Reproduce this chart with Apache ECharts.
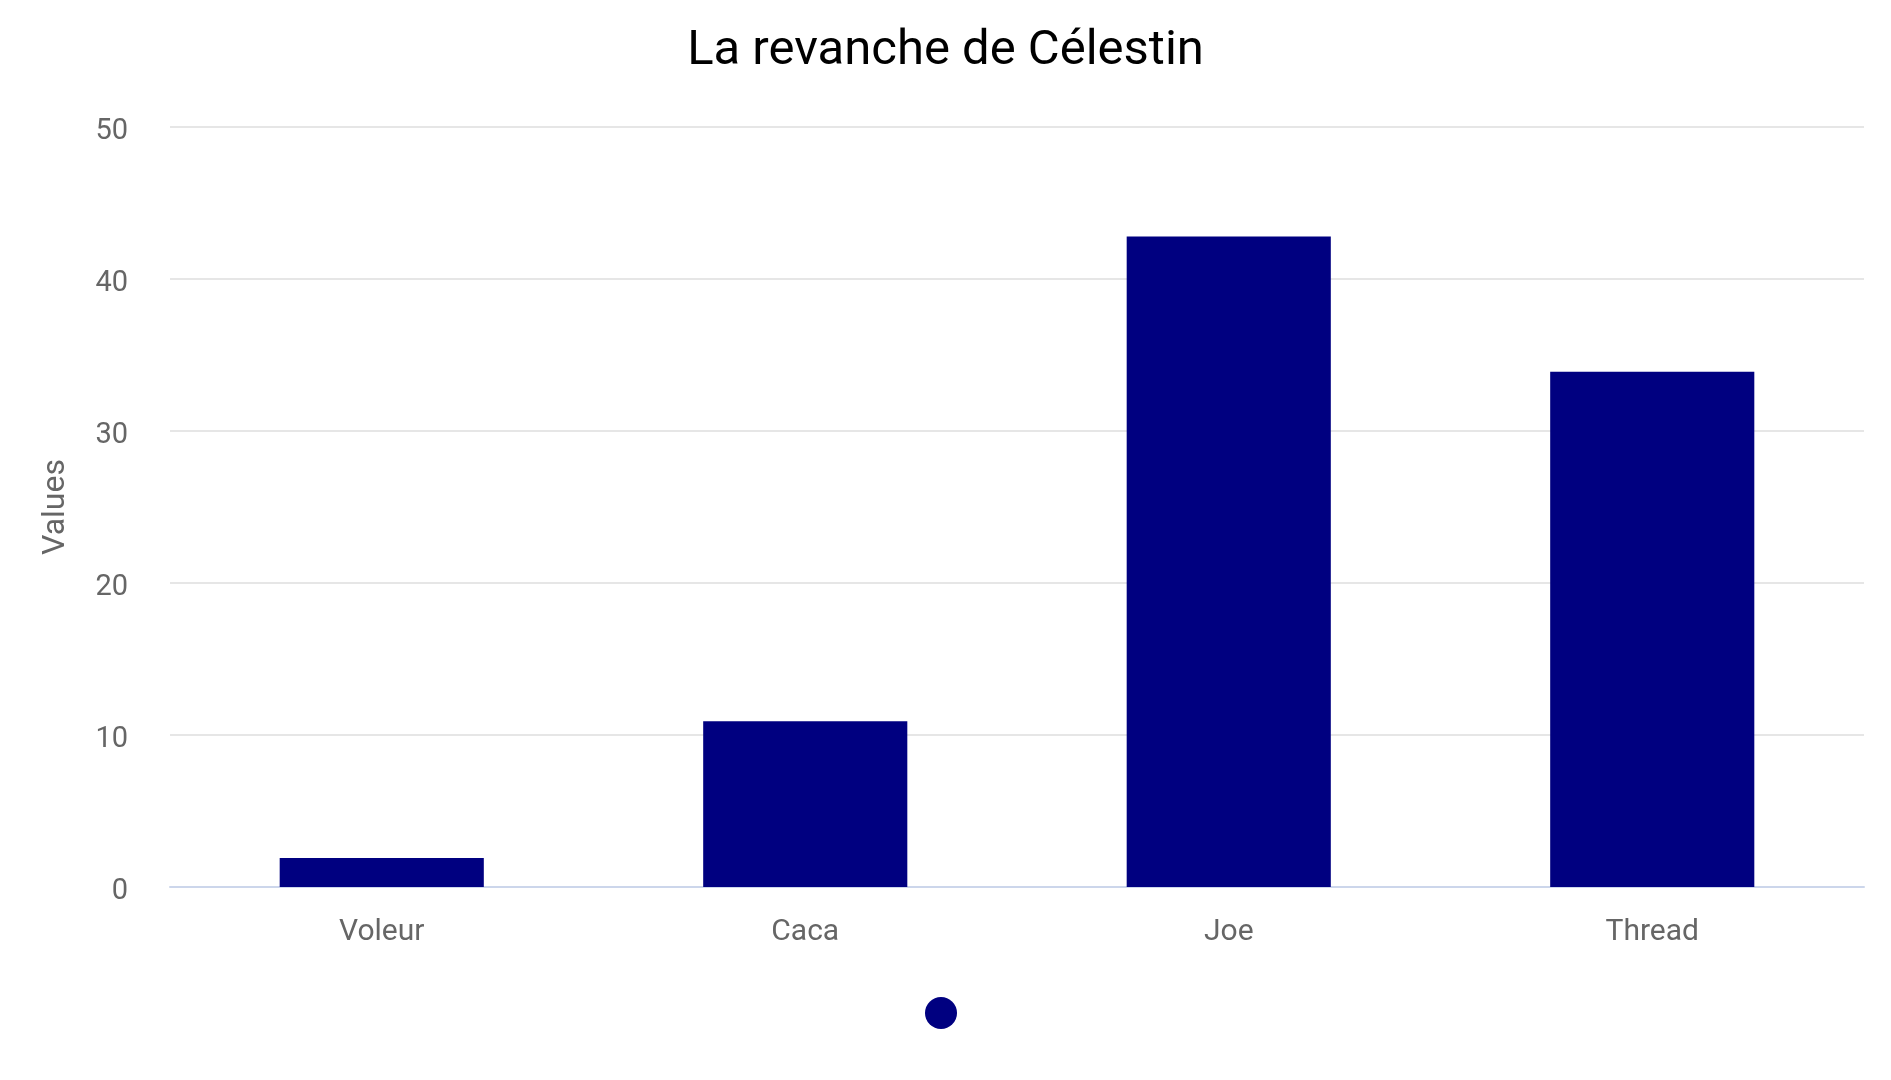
<!DOCTYPE html>
<html>
<head>
<meta charset="utf-8">
<script src="https://cdn.jsdelivr.net/npm/echarts@6/dist/echarts.min.js"></script>
<style>
html,body{margin:0;padding:0;background:#fff;}
#chart{width:1891px;height:1080px;}
</style>
</head>
<body>
<div id="chart"></div>
<script>
const titleText = 'La revanche de Célestin';
const categories = ['Voleur', 'Caca', 'Joe', 'Thread'];
const values = [1.9, 10.9, 42.8, 33.9];
const yAxisName = 'Values';
const yMin = 0, yMax = 50, yInterval = 10;

const chart = echarts.init(document.getElementById('chart'), null, {renderer: 'canvas'});
chart.setOption({
  backgroundColor: '#ffffff',
  animation: false,
  textStyle: {fontFamily: 'Roboto'},
  title: {
    text: titleText,
    left: 'center',
    top: 22,
    textStyle: {fontFamily: 'Roboto', fontSize: 49, fontWeight: 'normal', color: '#000000'}
  },
  legend: {
    data: [' '],
    left: 920,
    bottom: 46,
    icon: 'circle',
    itemWidth: 32,
    itemHeight: 32,
    formatter: function () { return ''; },
    selectedMode: false
  },
  grid: {left: 170, right: 27, top: 127, bottom: 193, containLabel: false},
  xAxis: {
    type: 'category',
    data: categories,
    axisLine: {lineStyle: {color: '#ccd6eb', width: 2}},
    axisTick: {show: false},
    axisLabel: {color: '#666666', fontSize: 30, margin: 30, fontFamily: 'Roboto'}
  },
  yAxis: {
    type: 'value',
    min: yMin, max: yMax, interval: yInterval,
    name: yAxisName,
    nameLocation: 'middle',
    nameGap: 98,
    nameTextStyle: {color: '#666666', fontSize: 32, fontFamily: 'Roboto'},
    axisLine: {show: false},
    axisTick: {show: false},
    axisLabel: {color: '#666666', fontSize: 29, margin: 42, verticalAlign: 'top', lineHeight: 10, fontFamily: 'Roboto'},
    splitLine: {lineStyle: {color: '#e6e6e6', width: 2}}
  },
  series: [{
    name: ' ',
    type: 'bar',
    data: values,
    barWidth: '48.2%',
    itemStyle: {color: '#000080'}
  }]
});
</script>
</body>
</html>
